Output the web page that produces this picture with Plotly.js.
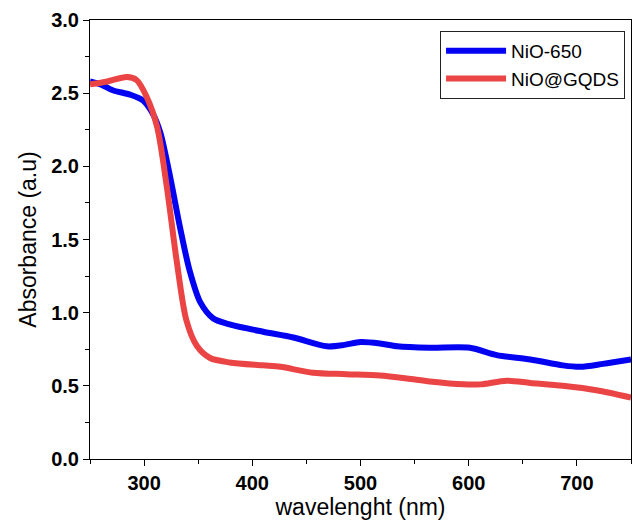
<!DOCTYPE html>
<html><head><meta charset="utf-8">
<script src="https://cdn.plot.ly/plotly-3.0.1.min.js"></script>
<style>html,body{margin:0;padding:0;background:#fff;}</style>
</head><body>
<div id="chart" style="width:633px;height:520px;"></div>
<script>
const wlBlue = [250, 260, 271, 287, 299, 308, 315, 324, 333, 342, 352, 364, 379, 410, 438, 469, 485, 500, 518, 534, 564, 601, 626, 657, 687, 703, 724, 750];
const absBlue = [2.58, 2.56, 2.52, 2.49, 2.45, 2.36, 2.23, 1.93, 1.59, 1.29, 1.07, 0.96, 0.92, 0.87, 0.83, 0.77, 0.78, 0.80, 0.79, 0.77, 0.76, 0.76, 0.71, 0.68, 0.64, 0.63, 0.65, 0.68];
const wlRed = [250, 266, 284, 293, 302, 312, 321, 330, 339, 349, 361, 379, 410, 426, 456, 487, 518, 543, 564, 595, 611, 635, 657, 687, 718, 750];
const absRed = [2.56, 2.58, 2.61, 2.59, 2.48, 2.27, 1.86, 1.36, 0.95, 0.77, 0.69, 0.66, 0.64, 0.63, 0.59, 0.58, 0.57, 0.55, 0.53, 0.51, 0.51, 0.535, 0.52, 0.50, 0.47, 0.42];
const seriesNames = ["NiO-650", "NiO@GQDS"];

const fontFam = "Liberation Sans, Arial, sans-serif";
const traces = [
  {x: wlBlue, y: absBlue, name: seriesNames[0], mode: "lines",
   line: {color: "#0303f2", width: 6, shape: "spline", smoothing: 0.8}},
  {x: wlRed, y: absRed, name: seriesNames[1], mode: "lines",
   line: {color: "#ea4444", width: 6, shape: "spline", smoothing: 0.8}}
];
const layout = {
  width: 633, height: 520,
  margin: {l: 90, r: 2, t: 20, b: 61},
  paper_bgcolor: "#fff", plot_bgcolor: "#fff",
  showlegend: true,
  legend: {x: 0.989, y: 0.975, xanchor: "right", yanchor: "top",
    bordercolor: "#222", borderwidth: 1, bgcolor: "#fff",
    font: {family: fontFam, size: 19, color: "#000"},
    itemwidth: 60, tracegroupgap: 0},
  xaxis: {range: [250, 750], dtick: 100, tick0: 300, ticks: "outside", ticklen: 6,
    tickwidth: 1, tickcolor: "#000", showgrid: false, zeroline: false,
    showline: true, linecolor: "#000", linewidth: 1, mirror: true,
    minor: {dtick: 50, tick0: 250, ticks: "outside", ticklen: 4, tickcolor: "#000"},
    tickfont: {family: fontFam, size: 20, color: "#000", weight: "bold"},
    title: {text: "wavelenght (nm)", font: {family: fontFam, size: 23, color: "#000"}, standoff: 1}},
  yaxis: {range: [0, 3], dtick: 0.5, tickformat: ".1f", ticks: "outside", ticklen: 6,
    tickwidth: 1, tickcolor: "#000", showgrid: false, zeroline: false,
    showline: true, linecolor: "#000", linewidth: 1, mirror: true,
    minor: {dtick: 0.25, ticks: "outside", ticklen: 4, tickcolor: "#000"},
    tickfont: {family: fontFam, size: 20, color: "#000", weight: "bold"},
    title: {text: "Absorbance (a.u)", font: {family: fontFam, size: 23, color: "#000"}, standoff: 8}}
};
Plotly.newPlot("chart", traces, layout, {staticPlot: true, displayModeBar: false});
</script>
</body></html>
